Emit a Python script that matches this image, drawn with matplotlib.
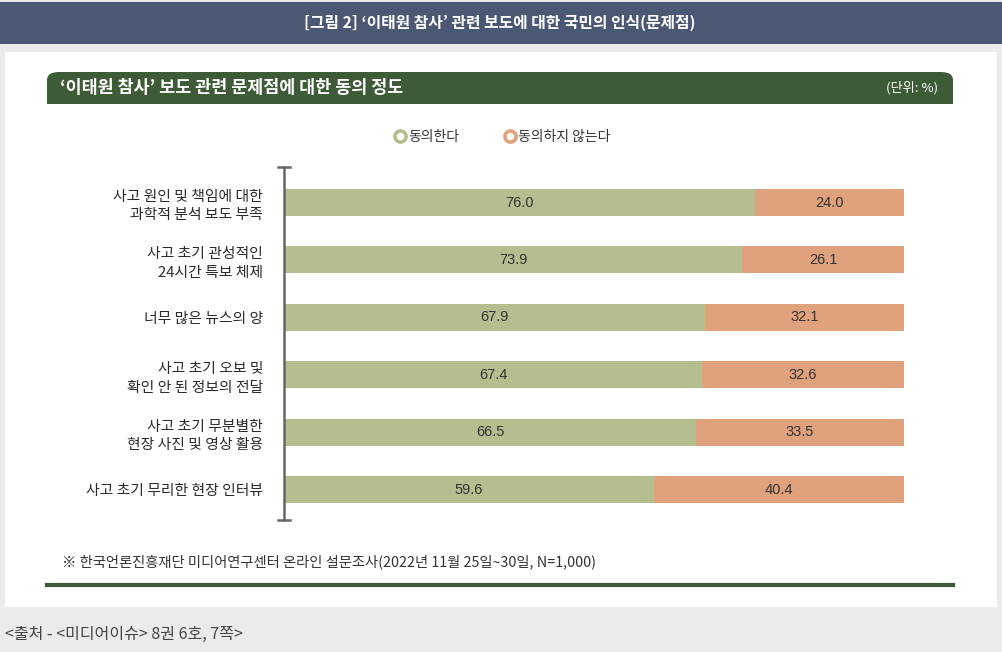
import numpy as np
import matplotlib.pyplot as plt
from matplotlib.patches import Rectangle, FancyBboxPatch
from matplotlib.lines import Line2D

plt.rcParams['font.family'] = ['Noto Sans CJK KR', 'DejaVu Sans']

# data
categories = ['사고 원인 및 책임에 대한\n과학적 분석 보도 부족',
              '사고 초기 관성적인\n24시간 특보 체제',
              '너무 많은 뉴스의 양',
              '사고 초기 오보 및\n확인 안 된 정보의 전달',
              '사고 초기 무분별한\n현장 사진 및 영상 활용',
              '사고 초기 무리한 현장 인터뷰']
agree = [76.0, 73.9, 67.9, 67.4, 66.5, 59.6]
disagree = [24.0, 26.1, 32.1, 32.6, 33.5, 40.4]
series_names = ['동의한다', '동의하지 않는다']

W, H = 1003, 652
fig = plt.figure(figsize=(W / 100, H / 100), dpi=100)
fig.patch.set_facecolor('#ebebee')

def fx(x):
    return x / W

def fy(y):
    return 1 - y / H

# top banner
fig.patches.append(Rectangle((fx(0), fy(44)), 1, 42 / H, transform=fig.transFigure,
                             facecolor='#4b5874', edgecolor='none', zorder=0))
fig.text(fx(500), fy(23), '[그림 2] ‘이태원 참사’ 관련 보도에 대한 국민의 인식(문제점)',
         color='white', fontsize=11.4, fontweight='bold', ha='center', va='center')

# white panel
fig.patches.append(Rectangle((fx(5), fy(607)), 992 / W, 555 / H, transform=fig.transFigure,
                             facecolor='white', edgecolor='none', zorder=0))

# green header with rounded top corners
fig.patches.append(FancyBboxPatch((fx(47), fy(104)), 906 / W, 32 / H,
                                  boxstyle='round,pad=0,rounding_size=0.012',
                                  transform=fig.transFigure, facecolor='#3e5b37',
                                  edgecolor='none', zorder=1))
fig.patches.append(Rectangle((fx(47), fy(104)), 906 / W, 14 / H, transform=fig.transFigure,
                             facecolor='#3e5b37', edgecolor='none', zorder=1))
fig.text(fx(60), fy(88), '‘이태원 참사’ 보도 관련 문제점에 대한 동의 정도',
         color='white', fontsize=12.5, fontweight='bold', ha='left', va='center', zorder=2)
fig.text(fx(938), fy(88), '(단위: %)', color='white', fontsize=9.5,
         ha='right', va='center', zorder=2)

# bars
ax = fig.add_axes([fx(284), fy(520), 620 / W, 353 / H])
ax.set_zorder(5)
ax.set_facecolor('none')
y = np.arange(len(categories))
c_agree, c_dis = '#b5be8f', '#e0a27c'
ax.barh(y, agree, height=0.47, color=c_agree, label=series_names[0])
ax.barh(y, disagree, left=agree, height=0.47, color=c_dis, label=series_names[1])
for i in range(len(categories)):
    ax.text(agree[i] / 2, i, f'{agree[i]:.1f}', ha='center', va='center',
            fontsize=10.5, color='#333333', family=['Liberation Sans', 'DejaVu Sans'])
    ax.text(agree[i] + disagree[i] / 2, i, f'{disagree[i]:.1f}', ha='center', va='center',
            fontsize=10.5, color='#333333', family=['Liberation Sans', 'DejaVu Sans'])

ax.set_xlim(0, 100)
ax.set_ylim(5.53, -0.62)
ax.set_yticks(y)
ax.set_yticklabels(categories, fontsize=10.7, color='#2b2b2b', linespacing=1.4)
ax.tick_params(axis='y', length=0, pad=15)
ax.set_xticks([])
for s in ['top', 'right', 'bottom']:
    ax.spines[s].set_visible(False)
ax.spines['left'].set_color('#666666')
ax.spines['left'].set_linewidth(1.8)
for yy in [0, 1]:
    ax.plot([-0.009, 0.009], [yy, yy], transform=ax.transAxes, color='#666666',
            lw=1.8, clip_on=False)

# legend
handles = [Line2D([], [], marker='o', ls='none', markersize=8, markerfacecolor='white',
                  markeredgecolor=c, markeredgewidth=2.6) for c in (c_agree, c_dis)]
fig.legend(handles, series_names, loc='center', bbox_to_anchor=(fx(502), fy(137)),
           ncol=2, frameon=False, fontsize=10, handletextpad=0.05,
           columnspacing=3.2, handlelength=1.0, labelcolor='#333333')

# footnote and bottom line
fig.text(fx(62), fy(562), '※ 한국언론진흥재단 미디어연구센터 온라인 설문조사(2022년 11월 25일~30일, N=1,000)',
         fontsize=10.3, color='#333333', ha='left', va='center')
fig.lines.append(Line2D([fx(47), fx(953)], [fy(585), fy(585)], transform=fig.transFigure,
                        color='#3e5b37', lw=3))

fig.text(fx(5), fy(634), '<출처 - <미디어이슈> 8권 6호, 7쪽>', fontsize=11.5,
         color='#444444', ha='left', va='center')

fig.savefig('out.png', dpi=100, facecolor=fig.get_facecolor())
